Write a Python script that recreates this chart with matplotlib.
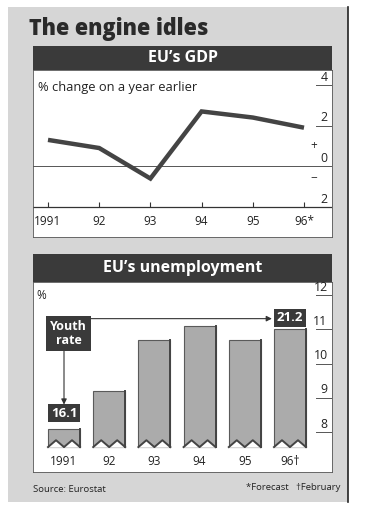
import matplotlib
matplotlib.use("Agg")
import matplotlib.pyplot as plt
from matplotlib.patches import Rectangle, Polygon

# ---------------- data ----------------
years = [1991, 1992, 1993, 1994, 1995, 1996]
year_labels_gdp = ["1991", "92", "93", "94", "95", "96*"]
year_labels_unemp = ["1991", "92", "93", "94", "95", "96\u2020"]
gdp_growth = [1.3, 0.9, -0.6, 2.7, 2.4, 1.9]
unemployment = [8.1, 9.2, 10.7, 11.1, 10.7, 11.0]
youth_years = [1991, 1996]
youth_rate = [16.1, 21.2]
gdp_ticks = [4, 2, 0, -2]
gdp_tick_labels = ["4", "2", "0", "2"]
unemp_ticks = [12, 11, 10, 9, 8]
unemp_tick_labels = ["12", "11", "10", "9", "8"]

title = "The engine idles"
gdp_title = "EU\u2019s GDP"
unemp_title = "EU\u2019s unemployment"
gdp_subtitle = "% change on a year earlier"
source = "Source: Eurostat"
notes = "*Forecast   \u2020February"

# ---------------- style ----------------
W, H = 370, 512
BG_GRAY = "#d6d6d6"
DARK = "#3a3a3a"
FONT = ["Open Sans", "DejaVu Sans"]
plt.rcParams["font.family"] = FONT

fig = plt.figure(figsize=(W / 100, H / 100), dpi=100)
fig.patch.set_facecolor("white")


def fx(x):
    return x / W


def fy(y):
    return 1 - y / H


def frect(x0, y0, x1, y1, **kw):
    r = Rectangle((fx(x0), fy(y1)), fx(x1) - fx(x0), fy(y0) - fy(y1),
                  transform=fig.transFigure, **kw)
    fig.patches.append(r)
    return r


# outer gray panel
frect(8, 7, 348, 502, facecolor=BG_GRAY, edgecolor="none", zorder=-5)
fig.add_artist(plt.Line2D([fx(348), fx(348)], [fy(7), fy(502)], color="#222",
                          lw=1.2, transform=fig.transFigure))

# title
fig.text(fx(29), fy(29), title, fontsize=15.5, fontweight="heavy",
         color="#2a2a2a", ha="left", va="center", family=FONT)

# header bars
frect(33, 46, 332, 70, facecolor=DARK, edgecolor="none", zorder=1)
fig.text(fx(183), fy(58), gdp_title, color="white", fontsize=11.5,
         fontweight="bold", ha="center", va="center")
frect(33, 254, 332, 282, facecolor=DARK, edgecolor="none", zorder=1)
fig.text(fx(183), fy(268), unemp_title, color="white", fontsize=11.5,
         fontweight="bold", ha="center", va="center")

# ---------------- GDP axes ----------------
ax1 = fig.add_axes([fx(33), fy(237), fx(332) - fx(33), fy(70) - fy(237)])
ax1.set_facecolor("white")
ax1.set_xlim(1990.707, 1996.547)
ax1.set_ylim(-3.476, 4.738)
for s in ax1.spines.values():
    s.set_color("#555")
    s.set_linewidth(0.6)
ax1.set_xticks([])
ax1.set_yticks([])

ax1.plot(years, gdp_growth, color="#444444", lw=3.2, solid_capstyle="butt",
         solid_joinstyle="miter", zorder=3)
ax1.axhline(0, color="#555", lw=0.7)
ax1.axhline(-2, color="#333", lw=0.9)
ax1.vlines(years, -2, -1.75, color="#333", lw=0.8)
ytr = ax1.get_yaxis_transform()
for t, lab in zip(gdp_ticks, gdp_tick_labels):
    if t > 0:
        ax1.plot([0.948, 1.0], [t, t], color="#555", lw=0.7, transform=ytr)
    ax1.annotate(lab, (0.985, t), xycoords=ytr, xytext=(0, 1.0),
                 textcoords="offset points", ha="right", va="bottom",
                 fontsize=8.8, color="#222")
ax1.text(0.94, 1.0, "+", transform=ytr, ha="center", va="center",
         fontsize=8.5, color="#222")
ax1.text(0.94, -0.6, "\u2212", transform=ytr, ha="center", va="center",
         fontsize=8.5, color="#222")
for yr, lab in zip(years, year_labels_gdp):
    ax1.text(yr, -2.72, lab, ha="center", va="center", fontsize=8.5,
             color="#222")
ax1.text(0.018, 0.895, gdp_subtitle, transform=ax1.transAxes, ha="left",
         va="center", fontsize=9.3, color="#222")

# ---------------- Unemployment axes ----------------
ax2 = fig.add_axes([fx(33), fy(472), fx(332) - fx(33), fy(282) - fy(472)])
ax2.set_facecolor("white")
ax2.set_xlim(1990.314, 1996.93)
ax2.set_ylim(6.832, 12.38)
for s in ax2.spines.values():
    s.set_color("#555")
    s.set_linewidth(0.6)
ax2.set_xticks([])
ax2.set_yticks([])

base = 7.56
bars = ax2.bar(years, [v - base for v in unemployment], bottom=base,
               width=0.708, color="#ababab", edgecolor="#5a5a5a",
               linewidth=0.8, zorder=2)
notch = 0.2
for b in bars:
    x0, w = b.get_x(), b.get_width()
    y0 = b.get_y()
    for k in range(2):
        xa = x0 + k * w / 2
        tri = Polygon([(xa, y0 - 0.02), (xa + w / 4, y0 + notch),
                       (xa + w / 2, y0 - 0.02)], closed=True,
                      facecolor="white", edgecolor="none", zorder=3)
        ax2.add_patch(tri)
    zz = [(x0, y0), (x0 + w / 4, y0 + notch), (x0 + w / 2, y0),
          (x0 + 3 * w / 4, y0 + notch), (x0 + w, y0)]
    ax2.plot([p[0] for p in zz], [p[1] for p in zz], color="#444", lw=1.4,
             zorder=4)
    # shadow on right side
    ax2.plot([x0 + w, x0 + w], [y0, b.get_y() + b.get_height()],
             color="#444", lw=1.4, zorder=4)

ytr2 = ax2.get_yaxis_transform()
for t, lab in zip(unemp_ticks, unemp_tick_labels):
    ax2.plot([0.948, 1.0], [t, t], color="#555", lw=0.7, transform=ytr2)
    ax2.annotate(lab, (0.985, t), xycoords=ytr2, xytext=(0, 1.0),
                 textcoords="offset points", ha="right", va="bottom",
                 fontsize=8.8, color="#222")
for yr, lab in zip(years, year_labels_unemp):
    ax2.text(yr, 7.13, lab, ha="center", va="center", fontsize=8.5,
             color="#222")
ax2.text(1990.5, 12.0, "%", ha="center", va="center", fontsize=8.5,
         color="#222")

# youth rate annotation
ax2.text(1991.1, 10.88, "Youth\nrate", ha="center", va="center", fontsize=9,
         fontweight="bold", color="white", linespacing=1.1, zorder=6,
         bbox=dict(boxstyle="square,pad=0.3", fc=DARK, ec="none"))
ax2.annotate("", xy=(1995.6, 11.31), xytext=(1991.58, 11.31),
             arrowprops=dict(arrowstyle="-|>", color="#333", lw=0.8,
                             mutation_scale=8, shrinkA=0, shrinkB=0), zorder=5)
ax2.annotate("", xy=(1991.0, 8.8), xytext=(1991.0, 10.4),
             arrowprops=dict(arrowstyle="-|>", color="#333", lw=0.8,
                             mutation_scale=8, shrinkA=0, shrinkB=0), zorder=5)
for yr, yv, ypos in zip(youth_years, youth_rate, [8.55, 11.33]):
    ax2.text(yr, ypos, f"{yv:.1f}", ha="center", va="center", fontsize=9.5,
             fontweight="bold", color="white", zorder=6,
             bbox=dict(boxstyle="square,pad=0.2", fc=DARK, ec="none"))

# footer
fig.text(fx(33), fy(490), source, fontsize=6.8, color="#222", ha="left",
         va="center")
fig.text(fx(340), fy(488), notes, fontsize=6.8, color="#222", ha="right",
         va="center")

fig.savefig("out.png", dpi=100, facecolor="white")
